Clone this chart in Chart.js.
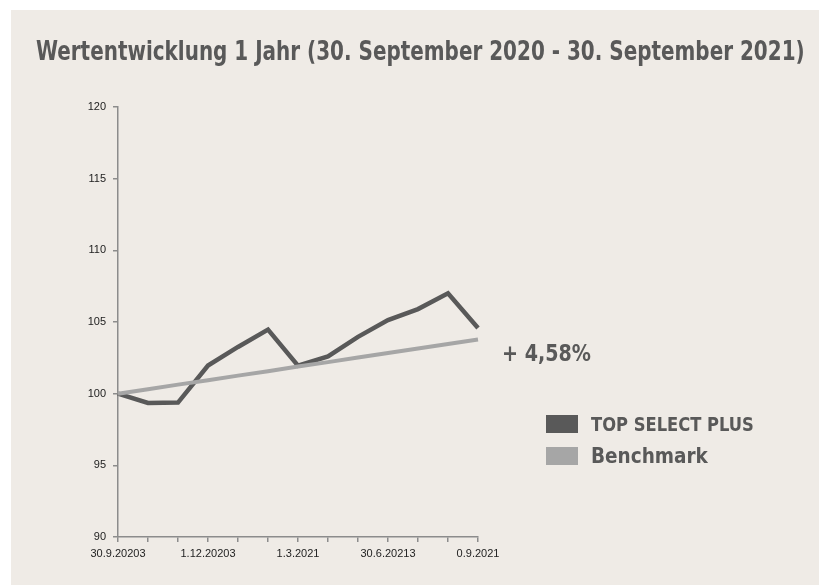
<!DOCTYPE html>
<html>
<head>
<meta charset="utf-8">
<script src="https://cdn.jsdelivr.net/npm/chart.js@4.4.0/dist/chart.umd.min.js"></script>
<style>
  html, body { margin: 0; padding: 0; background: #ffffff; }
  #wrap { position: relative; width: 819px; height: 585px; }
  #bg { position: absolute; left: 11px; top: 10px; right: 0; bottom: 0; background: #efebe6; }
  #chart { position: absolute; left: 0; top: 0; }
</style>
</head>
<body>
<div id="wrap">
  <div id="bg"></div>
  <canvas id="chart" width="819" height="585"></canvas>
</div>
<script>
// Data
const dates = ['30.9.20203', '', '', '1.12.20203', '', '', '1.3.2021', '', '', '30.6.20213', '', '', '0.9.2021'];
const fundValues = [100, 99.35, 99.38, 101.96, 103.26, 104.47, 101.96, 102.6, 103.96, 105.13, 105.9, 107.0, 104.58];
const benchmarkValues = [100, 100.31, 100.63, 100.94, 101.26, 101.57, 101.89, 102.2, 102.52, 102.83, 103.15, 103.46, 103.78];
const yTicks = [90, 95, 100, 105, 110, 115, 120];
const seriesNames = ['TOP SELECT PLUS', 'Benchmark'];
const titleText = 'Wertentwicklung 1 Jahr (30. September 2020 - 30. September 2021)';
const changeText = '+ 4,58%';

const textGray = '#595959';
const fundColor = '#595959';
const benchColor = '#a6a6a6';
const axisColor = '#8c8c8c';

// draws bold text squeezed to a given width and cap height (the original font is tall and narrow)
function fitText(ctx, text, x, baseline, width, cap) {
  ctx.font = 'bold 20px "DejaVu Sans Condensed"';
  const size = 20 * width / ctx.measureText(text).width;
  const sy = cap / (0.729 * size);
  ctx.save();
  ctx.font = `bold ${size}px "DejaVu Sans Condensed"`;
  ctx.textAlign = 'left';
  ctx.textBaseline = 'alphabetic';
  ctx.translate(x, baseline);
  ctx.scale(1, sy);
  ctx.fillText(text, 0, 0);
  ctx.restore();
}

// Title, result label and legend
const overlay = {
  id: 'overlay',
  afterDraw(chart) {
    const ctx = chart.ctx;
    ctx.save();
    ctx.fillStyle = textGray;
    fitText(ctx, titleText, 36, 60, 769, 19.5);
    fitText(ctx, changeText, 502, 360.5, 89, 17);

    [fundColor, benchColor].forEach((c, i) => {
      const y = 415 + i * 32;
      ctx.fillStyle = c;
      ctx.fillRect(546, y, 32, 18);
      ctx.fillStyle = textGray;
    });
    fitText(ctx, seriesNames[0], 591, 430.5, 163, 14.7);
    fitText(ctx, seriesNames[1], 591, 462.5, 117, 15);
    ctx.restore();
  }
};

new Chart(document.getElementById('chart'), {
  type: 'line',
  data: {
    labels: dates,
    datasets: [
      {
        label: seriesNames[1],
        data: benchmarkValues,
        borderColor: benchColor,
        borderWidth: 4,
        pointRadius: 0,
        tension: 0
      },
      {
        label: seriesNames[0],
        data: fundValues,
        borderColor: fundColor,
        borderWidth: 4.5,
        pointRadius: 0,
        tension: 0
      }
    ]
  },
  options: {
    responsive: false,
    animation: false,
    layout: { padding: { top: 107, right: 341, bottom: 0, left: 0 } },
    plugins: {
      legend: { display: false },
      title: { display: false },
      tooltip: { enabled: false }
    },
    scales: {
      x: {
        afterFit: s => { s.height = 48; },
        grid: { drawOnChartArea: false, drawTicks: true, tickLength: 5, color: axisColor, lineWidth: 1.5 },
        border: { display: true, color: axisColor, width: 1.5 },
        ticks: {
          autoSkip: false,
          maxRotation: 0,
          padding: 5,
          color: '#222222',
          font: { family: 'Liberation Sans', size: 11 }
        }
      },
      y: {
        min: 90,
        max: 120,
        afterFit: s => { s.width = 118; },
        afterBuildTicks: s => { s.ticks = yTicks.map(v => ({ value: v })); },
        grid: { drawOnChartArea: false, drawTicks: true, tickLength: 5, color: axisColor, lineWidth: 1.5 },
        border: { display: true, color: axisColor, width: 1.5 },
        ticks: {
          padding: 7,
          color: '#222222',
          font: { family: 'Liberation Sans', size: 11 }
        }
      }
    }
  },
  plugins: [overlay]
});
</script>
</body>
</html>
